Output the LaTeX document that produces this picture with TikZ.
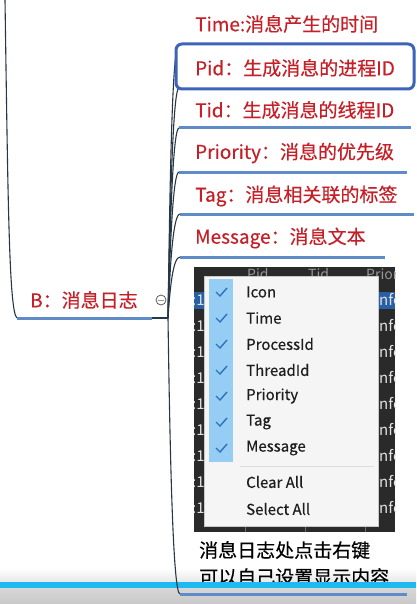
\documentclass[tikz,border=0pt]{standalone}
\usepackage{fontspec}
\newfontfamily\cjk[FakeBold=0.4]{Noto Sans CJK SC}
\newfontfamily\cjkr{Noto Sans CJK SC}
\definecolor{redtxt}{RGB}{197,32,40}
\definecolor{ulblue}{RGB}{95,140,200}
\definecolor{boxblue}{RGB}{60,100,185}
\definecolor{trunkc}{RGB}{40,55,70}
\definecolor{darkbg}{RGB}{42,42,42}
\definecolor{menubg}{RGB}{245,245,245}
\definecolor{checkcol}{RGB}{150,205,245}
\definecolor{checkmk}{RGB}{45,115,185}
\definecolor{cyanbar}{RGB}{30,185,240}
\definecolor{selrow}{RGB}{40,95,165}
\definecolor{menutxt}{RGB}{30,30,30}
\definecolor{hdrgray}{RGB}{150,150,150}
\definecolor{bgtxtc}{RGB}{225,225,225}
\definecolor{circgray}{RGB}{90,90,90}
\definecolor{minusgray}{RGB}{150,150,150}
\definecolor{gridgray}{RGB}{110,110,110}
\definecolor{menuborder}{RGB}{200,200,200}
\definecolor{sepgray}{RGB}{220,220,220}
\definecolor{fadegray}{RGB}{232,232,232}
\definecolor{bargrayA}{RGB}{215,215,215}
\definecolor{bargrayB}{RGB}{200,200,200}
\tikzset{
  redlbl/.style={anchor=west,inner sep=0pt,text=redtxt,font=\cjk\fontsize{19}{22}\selectfont},
  caplbl/.style={anchor=west,inner sep=0pt,text=black,font=\cjk\fontsize{19}{22}\selectfont},
  menuitem/.style={anchor=west,inner sep=0pt,text=menutxt,font=\cjk\fontsize{15}{18}\selectfont},
  bgtxt/.style={anchor=west,inner sep=0pt,text=bgtxtc,font=\cjkr\fontsize{15}{18}\selectfont},
  hdrtxt/.style={anchor=west,inner sep=0pt,text=hdrgray,font=\cjkr\fontsize{14}{16}\selectfont},
  uline/.style={draw=ulblue,line width=3pt},
  branch/.style={draw=trunkc,line width=1.1pt},
  checkm/.style={draw=checkmk,line width=1.4pt},
}
\begin{document}
\begin{tikzpicture}[x=1pt,y=-1pt]
\useasboundingbox (0,0) rectangle (416,604);
\fill[white] (0,0) rectangle (416,604);

% left main curve and B node
\coordinate (top) at (5,0);
\coordinate (bstart) at (17,318);
\coordinate (bend) at (152,318);
\coordinate (root) at (168,318);
\draw[branch] (top) .. controls (8,200) and (9,312) .. (bstart);
\draw[uline] (bstart) -- (bend);
\draw[branch] (bend) -- (root);
\node[redlbl] (nb) at (30,300) {B：消息日志};
\node[draw=circgray,line width=0.8pt,circle,minimum size=10pt,inner sep=0pt] (collapse) at (161,300) {};
\draw[minusgray,line width=0.6pt] ([xshift=-3pt]collapse.center) -- ([xshift=3pt]collapse.center);

% child coordinates
\coordinate (s1) at (179,44);  \coordinate (e1) at (414,44);
\coordinate (s2) at (179,88);  \coordinate (e2) at (414,88);
\coordinate (s3) at (179,128); \coordinate (e3) at (411,128);
\coordinate (s4) at (179,172); \coordinate (e4) at (407,172);
\coordinate (s5) at (180,214); \coordinate (e5) at (414,214);
\coordinate (s6) at (180,257); \coordinate (e6) at (385,257);
\coordinate (s7) at (180,594); \coordinate (e7) at (407,594);

% branches
\draw[branch] (root) .. controls (170,181) and (172,44) .. (s1);
\draw[branch] (root) .. controls (170,203) and (173,88) .. (s2);
\draw[branch] (root) .. controls (170,223) and (173,128) .. (s3);
\draw[branch] (root) .. controls (170,245) and (173,172) .. (s4);
\draw[branch] (root) .. controls (170,266) and (173,214) .. (s5);
\draw[branch] (root) .. controls (170,288) and (173,257) .. (s6);

% underlines
\draw[uline] (s3) -- (e3);
\draw[uline] (s4) -- (e4);
\draw[uline] (s5) -- (e5);
\draw[uline] (s6) -- (e6);

% selected Pid box
\draw[boxblue,line width=3pt,rounded corners=6pt,fill=white] (176,44) rectangle (414,89);

% labels
\node[redlbl] (ntime) at (195,24) {Time:消息产生的时间};
\node[redlbl] (npid) at (195,68) {Pid：生成消息的进程ID};
\node[redlbl] (ntid) at (195,110) {Tid：生成消息的线程ID};
\node[redlbl] (nprio) at (195,153) {Priority：消息的优先级};
\node[redlbl] (ntag) at (195,196) {Tag：消息相关联的标签};
\node[redlbl] (nmsg) at (195,238) {Message：消息文本};

% screenshot
\begin{scope}
\clip (194,267) rectangle (395,532);
\fill[darkbg] (194,267) rectangle (395,532);
\fill[selrow] (194,292) rectangle (395,309);
\foreach \yy in {300,326,352,378,404,430,456,482,508} {
  \node[bgtxt] at (192,\yy) {:1};
  \node[bgtxt] at (379,\yy) {nfo};
}
\node[hdrtxt] at (247,274) {Pid};
\node[hdrtxt] at (308,274) {Tid};
\node[hdrtxt] at (366,274) {Prior};
\foreach \xx in {245,305,365} \draw[gridgray,line width=0.6pt] (\xx,520) -- (\xx,532);
\end{scope}
\draw[fill=menubg,draw=menuborder,line width=0.8pt] (204,276) rectangle (378,526);
\fill[checkcol] (209,279) rectangle (233,462);
\foreach \yy/\tt in {292/Icon,318/Time,344/ProcessId,370/ThreadId,396/Priority,422/Tag,448/Message} {
  \draw[checkm] (216,\yy) -- (220,\yy+4) -- (227,\yy-4);
  \node[menuitem] at (246,\yy) {\tt};
}
\draw[sepgray,line width=1pt] (240,466) -- (374,466);
\node[menuitem] (nclear) at (246,482) {Clear All};
\node[menuitem] (nselect) at (246,509) {Select All};

% bottom fade, then caption
\shade[top color=white,bottom color=fadegray] (0,568) rectangle (416,582);
\node[caplbl] (cap1) at (199,550) {消息日志处点击右键};
\node[caplbl] (cap2) at (199,577) {可以自己设置显示内容};

% bottom bar
\fill[cyanbar] (0,582) rectangle (416,588);
\shade[top color=bargrayA,bottom color=bargrayB] (0,588) rectangle (416,604);

% last branch
\draw[branch] (root) .. controls (170,456) and (173,594) .. (s7);
\draw[uline] (s7) -- (e7);
\end{tikzpicture}
\end{document}
